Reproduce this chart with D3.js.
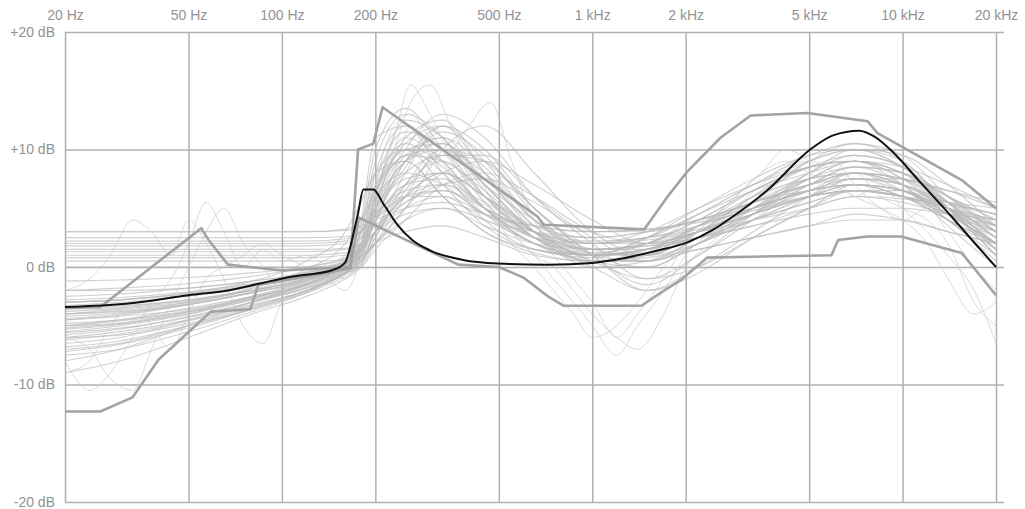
<!DOCTYPE html>
<html>
<head>
<meta charset="utf-8">
<script src="https://cdn.jsdelivr.net/npm/d3@7"></script>
<style>
  html, body { margin: 0; padding: 0; background: #fff; }
  svg { display: block; }
  .axis text { font-family: "Liberation Sans", Arial, sans-serif; font-size: 14px; fill: #929292; }
  .axis line { stroke: #b0b0b0; stroke-width: 1.5; }
  .axis .domain { display: none; }
</style>
</head>
<body>
<div id="chart"></div>
<script>
// tick values
const freqTicks = [20, 50, 100, 200, 500, 1000, 2000, 5000, 10000, 20000];
const dbTicks = [-20, -10, 0, 10, 20];

// frequency grid shared by the smooth EQ curves
const eqFreqs = [20, 30, 50, 80, 120, 160, 180, 200, 250, 330, 450, 650, 1000, 1500, 2200, 3300, 5000, 7000, 10000, 14000, 20000];
const eqCurves = [
  [-4.5,-4.1,-3.2,-2.1,-1.0,0.0,1.5,6.0,10.0,8.0,4.0,1.5,0.8,2.0,4.0,6.5,8.5,9.0,7.0,4.0,1.0],
  [-5.5,-5.0,-4.0,-2.5,-1.2,0.2,2.0,8.0,12.0,9.0,5.0,2.0,1.0,1.5,3.5,6.0,7.5,8.0,6.5,4.5,2.0],
  [3.0,3.0,3.0,3.0,3.0,3.2,4.0,6.0,8.0,7.0,4.5,3.5,3.0,3.2,4.0,5.5,7.0,8.0,7.0,5.5,4.5],
  [2.0,2.0,2.0,2.0,2.0,2.2,3.0,5.0,7.5,8.0,5.0,2.5,2.0,2.5,3.5,5.0,6.5,7.5,7.0,5.5,3.5],
  [-6.5,-6.0,-4.5,-3.0,-1.5,0.0,1.0,4.0,9.0,11.0,7.0,3.0,1.5,2.0,4.5,7.0,9.5,10.5,9.0,5.5,2.5],
  [-3.0,-2.8,-2.2,-1.5,-0.5,0.5,2.0,5.0,8.0,9.5,9.0,5.0,2.0,2.0,3.0,5.0,6.5,7.5,7.0,5.0,2.0],
  [-8.0,-7.0,-5.0,-3.0,-1.5,0.0,0.5,3.0,6.0,8.0,6.0,3.0,0.5,-1.0,1.0,4.0,7.0,8.5,7.0,3.5,0.0],
  [1.5,1.5,1.5,1.5,1.5,1.6,2.0,3.0,4.5,5.0,3.5,2.0,1.5,1.8,2.5,3.5,4.5,5.0,5.0,4.5,4.0],
  [-4.0,-3.6,-3.0,-2.0,-1.0,0.3,3.0,9.0,13.0,11.0,6.0,2.5,1.0,1.0,3.0,5.5,7.5,8.0,7.0,5.0,3.0],
  [-5.0,-4.5,-3.5,-2.5,-1.3,0.0,1.0,2.0,5.0,10.0,12.0,8.0,3.0,1.0,2.0,4.0,6.0,7.0,6.5,4.5,2.0],
  [0.5,0.5,0.5,0.5,0.5,0.6,1.0,2.0,3.0,3.5,2.5,1.0,0.5,0.8,1.5,2.5,3.5,4.5,4.0,3.0,2.0],
  [-2.0,-2.0,-1.8,-1.2,-0.5,0.5,1.5,4.0,7.0,7.5,5.0,3.0,2.0,3.0,5.0,7.0,8.5,9.0,8.5,7.0,5.0],
  [-6.0,-5.5,-4.5,-3.2,-2.0,-0.5,0.5,3.0,8.0,12.0,10.0,5.0,1.0,-2.0,0.0,3.0,6.0,8.0,7.5,5.0,2.0],
  [1.0,1.0,1.0,1.0,1.0,1.2,2.0,4.0,6.0,6.5,4.5,2.0,1.0,1.5,2.5,4.0,5.5,6.5,6.0,4.0,2.0],
  [-7.0,-6.5,-5.0,-3.5,-2.0,-0.5,0.0,1.5,4.0,7.0,8.0,6.0,3.0,2.0,3.0,4.5,6.0,6.5,6.0,4.5,3.0],
  [2.5,2.5,2.5,2.5,2.5,2.6,3.0,4.5,6.0,6.0,4.0,3.0,2.5,3.0,4.0,5.5,7.0,8.0,7.5,6.5,5.5],
  [-4.5,-4.2,-3.6,-2.6,-1.5,-0.2,1.0,4.0,9.0,12.0,8.0,3.5,0.5,0.0,2.0,5.0,8.0,9.5,8.5,5.5,1.5],
  [-3.5,-3.3,-2.8,-2.0,-1.0,0.2,1.5,6.0,11.0,9.0,5.0,2.0,0.5,1.0,2.5,4.5,6.0,7.0,6.5,4.5,2.0],
  [-5.0,-4.8,-4.0,-2.8,-1.6,-0.3,1.0,5.0,10.0,13.0,11.0,6.0,2.0,-1.0,0.0,2.5,5.0,7.0,6.5,4.0,0.5],
  [0.0,0.0,0.0,0.0,0.0,0.2,0.8,2.0,4.0,5.0,4.0,2.0,0.5,0.5,1.5,2.5,3.5,4.0,4.0,3.0,2.0],
  [-2.5,-2.3,-1.8,-1.2,-0.4,0.6,3.0,8.0,10.0,7.0,3.5,1.5,1.0,2.5,4.5,6.5,8.0,9.0,8.0,6.0,4.0],
  [-6.0,-5.8,-4.8,-3.4,-2.0,-0.6,0.5,2.0,5.0,8.0,9.0,7.0,4.0,2.0,3.0,5.0,7.5,9.0,8.0,5.5,2.5],
  [3.0,3.0,3.0,3.0,3.0,3.1,3.5,4.0,5.0,5.5,4.5,3.5,3.0,3.2,3.8,4.8,6.0,6.5,6.0,5.5,5.0],
  [-3.0,-2.8,-2.3,-1.6,-0.7,0.4,1.5,4.5,9.0,10.0,7.0,4.0,2.0,2.5,4.5,7.0,9.0,10.0,9.5,7.0,3.5],
  [-7.5,-7.0,-5.5,-3.8,-2.2,-0.5,0.5,3.0,7.0,9.0,6.0,2.5,0.0,-2.0,-0.5,2.5,5.0,6.5,6.5,4.5,2.0],
  [1.8,1.8,1.8,1.8,1.8,2.0,2.5,4.0,6.0,7.0,5.5,3.0,2.0,2.3,3.0,4.0,5.0,6.0,5.8,5.3,4.5],
  [-4.0,-3.8,-3.2,-2.2,-1.2,0.0,1.0,3.0,6.0,8.0,6.0,3.0,1.0,1.5,3.5,5.5,6.5,7.0,6.0,4.5,2.5],
  [-9.0,-8.0,-6.0,-4.0,-2.5,-1.0,0.0,2.0,6.0,10.0,9.0,5.0,1.0,-1.5,1.0,4.5,8.0,10.0,9.0,5.0,1.0],
  [-5.0,-4.6,-3.8,-2.8,-1.8,-0.5,0.8,5.0,11.0,12.5,8.0,3.0,0.0,0.5,2.5,5.5,9.0,10.5,9.5,6.0,3.0],
  [-3.8,-3.5,-2.9,-2.0,-1.0,0.3,2.5,7.0,9.0,6.0,3.0,1.2,0.5,1.5,3.5,5.5,7.0,7.5,6.5,5.0,3.5],
  [1.3,1.3,1.3,1.3,1.3,1.5,2.0,3.5,5.5,6.5,5.0,3.0,1.5,1.8,2.5,3.5,5.0,6.0,5.5,4.5,3.5],
  [-5.8,-5.3,-4.2,-3.0,-1.7,-0.2,1.5,6.0,10.0,10.5,7.0,3.0,0.5,0.5,2.5,5.0,7.5,8.5,8.0,6.0,3.0],
  [-2.0,-1.8,-1.4,-0.8,0.0,0.8,1.5,3.0,5.5,7.0,7.5,5.5,3.0,3.0,4.0,5.5,7.0,8.0,7.5,6.5,5.0],
  [-6.8,-6.3,-5.0,-3.6,-2.2,-0.8,0.2,2.5,7.0,10.0,8.0,4.0,1.5,1.0,3.0,6.0,9.0,10.0,8.5,5.0,1.5],
  [-4.2,-3.9,-3.1,-2.2,-1.1,0.1,2.0,7.0,11.5,10.0,6.0,2.5,1.0,2.5,5.0,7.5,9.5,10.0,8.5,6.0,3.5],
  [-5.3,-4.9,-3.9,-2.7,-1.5,-0.1,1.2,4.5,9.5,11.0,8.5,4.0,1.5,1.5,3.0,5.0,6.5,7.0,6.0,4.0,1.5],
  [2.2,2.2,2.2,2.2,2.2,2.4,3.0,4.5,6.5,7.0,5.0,3.0,2.2,2.5,3.2,4.5,6.0,7.0,6.5,5.5,4.5],
  [-3.3,-3.0,-2.5,-1.7,-0.8,0.3,1.8,5.5,9.5,9.0,6.5,3.0,1.5,2.0,3.5,5.0,6.5,7.0,6.5,5.0,3.0],
  [-6.2,-5.7,-4.6,-3.3,-2.0,-0.5,0.8,4.0,8.5,11.5,9.5,4.5,1.0,0.0,2.0,4.5,7.0,8.5,8.0,5.5,2.5],
  [-4.8,-4.5,-3.7,-2.6,-1.4,0.0,1.3,5.5,10.5,12.0,9.0,4.0,1.2,1.0,3.0,6.0,8.5,9.5,8.5,5.0,1.5],
  [0.8,0.8,0.8,0.8,0.8,1.0,1.6,3.0,5.0,6.0,4.5,2.5,1.0,1.5,2.5,4.0,5.5,6.5,6.0,5.0,4.0],
  [-2.8,-2.6,-2.1,-1.4,-0.6,0.4,2.0,6.5,10.5,8.5,5.0,2.5,1.5,2.0,3.0,4.5,6.0,6.5,6.0,5.0,3.5],
  [-7.2,-6.6,-5.2,-3.6,-2.1,-0.6,0.3,2.5,6.5,9.5,9.5,6.0,2.5,0.5,2.0,4.5,7.5,9.0,8.0,5.0,1.0],
  [-3.6,-3.4,-2.8,-1.9,-0.9,0.2,1.5,5.0,9.0,10.5,7.5,3.5,1.0,0.5,2.0,4.0,6.0,7.5,7.5,6.0,4.0],
  [-5.6,-5.2,-4.3,-3.0,-1.8,-0.4,1.0,6.0,12.5,11.0,6.5,2.5,0.5,1.0,3.5,6.5,8.5,9.0,7.5,4.5,2.0],
  [-1.2,-1.1,-0.9,-0.5,0.0,0.7,1.8,4.0,7.0,8.0,6.0,3.5,2.5,3.0,4.0,5.0,6.0,6.5,6.0,5.0,4.0],
  [-3.0,-2.8,-2.2,-1.2,0.5,3.0,5.5,8.0,9.0,6.0,3.0,1.5,1.0,1.5,3.0,5.0,6.5,7.0,6.0,4.0,2.0],
  [-4.0,-3.7,-3.0,-1.8,-0.2,2.0,4.0,6.5,9.5,10.0,7.0,3.0,1.0,1.2,2.5,4.5,6.5,8.0,7.5,5.5,3.0],
  [-4.4,-4.0,-3.2,-2.2,-1.1,0.2,4.0,11.0,12.0,8.0,4.5,2.0,1.0,1.5,3.0,5.0,7.0,8.0,7.0,5.0,2.5],
  [-5.2,-4.8,-3.8,-2.6,-1.4,0.0,3.5,10.0,13.5,10.0,5.5,2.5,1.2,2.0,4.0,6.5,8.5,9.0,7.5,5.0,2.0]
];

// raw measured curves, denser grid
const measFreqs = [20,24,28,33,38,44,50,57,65,75,87,100,120,140,160,180,200,230,260,300,350,400,470,550,650,750,870,1000,1200,1400,1700,2000,2400,2900,3500,4200,5000,6000,7000,8500,10000,12000,14000,17000,20000];
const measCurves = [
  [-8,-10.5,-9,-6,-3,-1,2,5.5,3,0,1.5,0.5,1,0,-1,1,5,10,14,15.5,12,9,6,3,1,-1,-3,-5,-7.5,-5,-2,1,3,5,7,8.5,9,8,6,7,5,3,1,-2,-6.5],
  [-6,-7,-9.5,-10.5,-7,-3,0,3,5,2,0,-2,-1,0,1,2,6,11,15.5,13,10,12,14,9,4,1,-1,-3,-6,-4,-1,2,4,6,8,10,9,7,8,6,5,4,2,-3,-5],
  [-2,-1,1,4,3,1,4,2,-1,-5,-6.5,-3,-1,0,0.5,1,4,8,12,10,8,6,5,3,1,0,-2,-4,-6,-7,-4,0,2,4,6,7,8,9,7,5,4,5,3,0,-2],
  [-9,-8,-5,-3,-5,-7,-4,-1,0,1,2,1,0,-1,-2,1,7,12,13,11,9,7,5,2,0,-2,-4,-6,-5,-3,0,2,4,6,8,9,8,7,6,5,4,2,-1,-4,-3]
];

// upper / lower range curves (piecewise)
const upperFreqs = [20, 26, 55, 58, 67, 100, 166, 176, 197, 211, 666, 697, 1470, 1750, 2020, 2590, 3240, 4930, 7720, 8300, 10000, 15500, 20000];
const upperDb = [-3.5, -3.4, 3.3, 2.3, 0.2, -0.3, 0, 10, 10.5, 13.6, 4.3, 3.6, 3.2, 6, 8.1, 11, 12.9, 13.1, 12.4, 11.4, 10.2, 7.4, 5];
const lowerFreqs = [20, 26, 33, 40, 59, 79, 84, 120, 166, 177, 370, 500, 600, 720, 810, 1440, 1660, 1930, 2350, 5900, 6200, 7700, 9900, 15500, 20000];
const lowerDb = [-12.3, -12.3, -11.1, -7.9, -3.8, -3.6, -1.5, -0.8, -0.1, 4.2, 0.2, 0, -0.9, -2.5, -3.3, -3.3, -2.2, -1.1, 0.8, 1.0, 2.3, 2.6, 2.6, 1.2, -2.4];

// target curve
const targetFreqs = [20, 32, 50, 67, 85, 106, 146, 160, 166, 176, 183, 197, 212, 234, 263, 301, 383, 496, 717, 1000, 1262, 1620, 2026, 2460, 2840, 3690, 5040, 5970, 7250, 8120, 9370, 11240, 14370, 17520, 20000];
const targetDb = [-3.4, -3.1, -2.4, -2.0, -1.4, -0.85, -0.25, 0.4, 1.7, 4.6, 6.6, 6.6, 5.4, 3.7, 2.3, 1.4, 0.6, 0.3, 0.2, 0.35, 0.75, 1.4, 2.1, 3.2, 4.3, 6.6, 10, 11.2, 11.6, 11.1, 9.7, 7.4, 4.3, 1.7, 0];

const width = 1025, height = 509;
const margin = { left: 65, top: 32, right: 21, bottom: 7 };
const plotRight = width - margin.right;
const plotBottom = height - margin.bottom;

const svg = d3.select('#chart').append('svg')
  .attr('width', width)
  .attr('height', height);

svg.append('rect').attr('width', width).attr('height', height).attr('fill', '#fff');

const x = d3.scaleLog().domain([20, 20000]).range([margin.left, 996]);
const y = d3.scaleLinear().domain([-20, 20]).range([plotBottom, margin.top]);

// grid via axes
svg.append('g')
  .attr('class', 'axis x-axis')
  .attr('transform', `translate(0,${margin.top})`)
  .call(d3.axisTop(x)
    .tickValues(freqTicks)
    .tickSize(-(plotBottom - margin.top))
    .tickPadding(12)
    .tickFormat(d => d >= 1000 ? `${d / 1000} kHz` : `${d} Hz`));

svg.append('g')
  .attr('class', 'axis y-axis')
  .attr('transform', `translate(${margin.left},0)`)
  .call(d3.axisLeft(y)
    .tickValues(dbTicks)
    .tickSize(-(plotRight - margin.left))
    .tickPadding(10)
    .tickFormat(d => d > 0 ? `+${d} dB` : `${d} dB`));

const line = d3.line()
  .x(d => x(d[0]))
  .y(d => y(d[1]))
  .curve(d3.curveMonotoneX);

const straight = d3.line()
  .x(d => x(d[0]))
  .y(d => y(d[1]));

const thin = svg.append('g').attr('class', 'eq-curves');

thin.selectAll('.eq')
  .data(eqCurves.map(c => c.map((v, i) => [eqFreqs[i], v])))
  .enter().append('path')
  .attr('class', 'eq')
  .attr('d', line)
  .attr('fill', 'none')
  .attr('stroke', '#b8b8b8')
  .attr('stroke-opacity', 0.65)
  .attr('stroke-width', 1.1);

thin.selectAll('.meas')
  .data(measCurves.map(c => c.map((v, i) => [measFreqs[i], v])))
  .enter().append('path')
  .attr('class', 'meas')
  .attr('d', line)
  .attr('fill', 'none')
  .attr('stroke', '#c8c8c8')
  .attr('stroke-opacity', 0.65)
  .attr('stroke-width', 1);

const bounds = [
  upperFreqs.map((f, i) => [f, upperDb[i]]),
  lowerFreqs.map((f, i) => [f, lowerDb[i]])
];

svg.append('g').selectAll('path')
  .data(bounds)
  .enter().append('path')
  .attr('d', straight)
  .attr('fill', 'none')
  .attr('stroke', '#a3a3a3')
  .attr('stroke-width', 2.6)
  .attr('stroke-linejoin', 'round');

svg.append('path')
  .datum(targetFreqs.map((f, i) => [f, targetDb[i]]))
  .attr('d', line)
  .attr('fill', 'none')
  .attr('stroke', '#111')
  .attr('stroke-width', 2);
</script>
</body>
</html>
